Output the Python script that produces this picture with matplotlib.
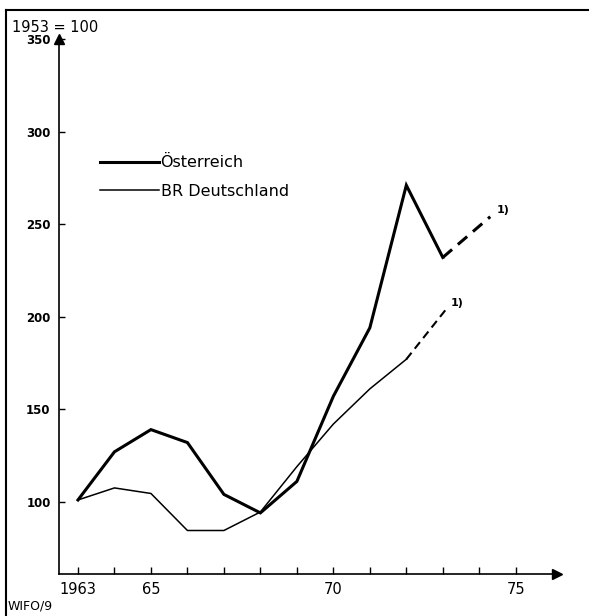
import matplotlib
matplotlib.use("Agg")
import matplotlib.pyplot as plt
from matplotlib.lines import Line2D

# index values, 1953 = 100
years = [1963, 1964, 1965, 1966, 1967, 1968, 1969, 1970, 1971, 1972, 1973]
austria = [101, 127, 139, 132, 104, 94, 111, 157, 194, 271, 232]
germany = [101, 107.5, 104.5, 84.5, 84.5, 94.5, 119, 142, 161, 177]

# estimated continuation (footnote 1)
austria_est_x = [1973, 1974.3]
austria_est_y = [232, 254]
germany_est_x = [1972, 1973.13]
germany_est_y = [177, 205]

xticks = [1963, 1965, 1970, 1975]
xticklabels = ["1963", "65", "70", "75"]
yticks = [100, 150, 200, 250, 300, 350]

plt.rcParams['font.family'] = ['DejaVu Sans']

fig = plt.figure(figsize=(5.89, 6.16), dpi=100)
ax = fig.add_axes([59/589, 42/616, 498/589, 535/616])

ax.plot(years, austria, color='black', lw=2.2, solid_joinstyle='miter', label='Österreich')
ax.plot(years[:len(germany)], germany, color='black', lw=1.1, label='BR Deutschland')
ax.plot(austria_est_x, austria_est_y, color='black', lw=2.2, dashes=(4, 2.5))
ax.plot(germany_est_x, germany_est_y, color='black', lw=1.5, dashes=(4, 2.5))

ax.annotate("1)", (austria_est_x[-1], austria_est_y[-1]), xytext=(5, 3),
            textcoords='offset points', fontsize=8, fontweight='bold')
ax.annotate("1)", (germany_est_x[-1], germany_est_y[-1]), xytext=(2, 1),
            textcoords='offset points', fontsize=8, fontweight='bold')

ax.set_xlim(1962.48, 1976.13)
ax.set_ylim(61, 350)

ax.set_xticks(xticks)
ax.set_xticklabels(xticklabels, fontsize=10.5)
ax.set_xticks(range(1963, 1976), minor=True)
ax.tick_params(axis='x', which='both', direction='in', length=5, width=1, pad=6)
ax.set_yticks(yticks)
ax.set_yticklabels([str(v) for v in yticks], fontsize=8.5, fontweight='bold')
ax.tick_params(axis='y', direction='in', length=4, width=1, pad=6)

for s in ['top', 'right']:
    ax.spines[s].set_visible(False)
for s in ['left', 'bottom']:
    ax.spines[s].set_linewidth(1.2)

# axis arrows
ax.plot(1, 0, '>', color='black', ms=7, transform=ax.transAxes, clip_on=False)
ax.plot(0, 1, '^', color='black', ms=7, transform=ax.transAxes, clip_on=False)

leg = ax.legend(loc='upper left', bbox_to_anchor=(0.082, 0.783), frameon=False,
                fontsize=11.5, handlelength=3.7, handletextpad=0.1,
                labelspacing=0.85, borderpad=0, borderaxespad=0)

fig.text(12/589, 1 - 27/616, "1953 = 100", fontsize=10.5, va='center', ha='left')
fig.text(8/589, 1 - 606/616, "WIFO/9", fontsize=9, va='center', ha='left')

# frame: left and top edges only
fig.add_artist(Line2D([6/589, 6/589], [0, 1 - 10/616], lw=1.5, color='black',
                      transform=fig.transFigure))
fig.add_artist(Line2D([6/589, 1], [1 - 10/616, 1 - 10/616], lw=1.5, color='black',
                      transform=fig.transFigure))

fig.savefig("out.png", dpi=100)
